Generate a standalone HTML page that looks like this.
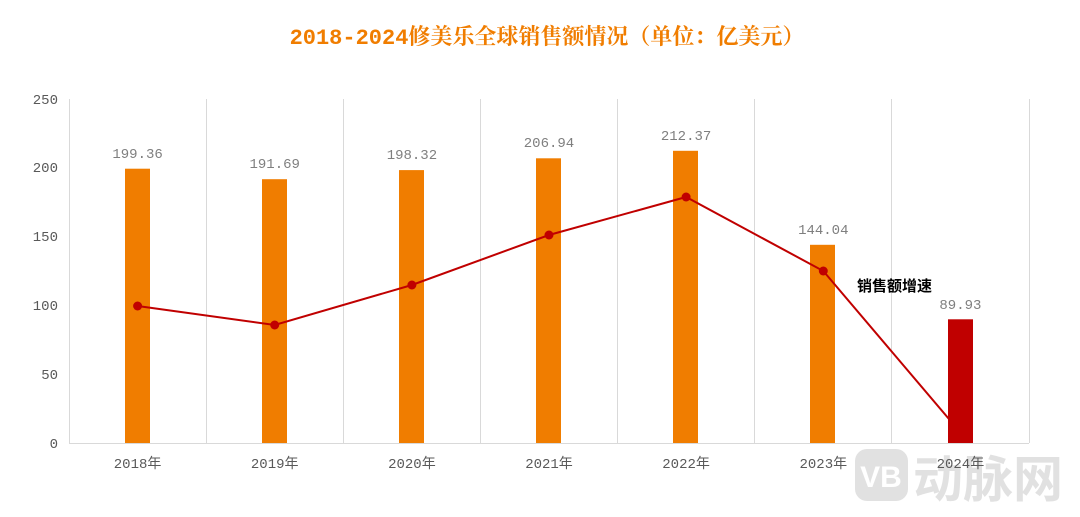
<!DOCTYPE html>
<html><head><meta charset="utf-8"><style>
body{margin:0;background:#fff;}
svg text{font-family:"Liberation Mono","Noto Sans CJK SC",monospace;}
</style></head><body>
<svg width="1080" height="512" xmlns="http://www.w3.org/2000/svg">
<text x="547" y="44" text-anchor="middle" font-size="22" font-weight="bold" fill="#f07d00" style="font-family:'Liberation Mono','Noto Serif CJK SC',monospace">2018-2024修美乐全球销售额情况（单位：亿美元）</text>
<g stroke="#d9d9d9" stroke-width="1">
<line x1="69.5" y1="99" x2="69.5" y2="443"/>
<line x1="206.5" y1="99" x2="206.5" y2="443"/>
<line x1="343.5" y1="99" x2="343.5" y2="443"/>
<line x1="480.5" y1="99" x2="480.5" y2="443"/>
<line x1="617.5" y1="99" x2="617.5" y2="443"/>
<line x1="754.5" y1="99" x2="754.5" y2="443"/>
<line x1="891.5" y1="99" x2="891.5" y2="443"/>
<line x1="1029.5" y1="99" x2="1029.5" y2="443"/>
<line x1="69" y1="443.5" x2="1029" y2="443.5"/>
</g>
<g font-size="14" fill="#595959" text-anchor="end">
<text x="58" y="448">0</text><text x="58" y="379">50</text><text x="58" y="310">100</text><text x="58" y="241">150</text><text x="58" y="172">200</text><text x="58" y="104">250</text>
</g>
<g fill="#f07d00">
<rect x="125" y="168.7" width="25" height="274.3"/>
<rect x="262" y="179.2" width="25" height="263.8"/>
<rect x="399" y="170.1" width="25" height="272.9"/>
<rect x="536" y="158.3" width="25" height="284.7"/>
<rect x="673" y="150.8" width="25" height="292.2"/>
<rect x="810" y="244.8" width="25" height="198.2"/>
</g>
<polyline points="137.6,306 274.7,325 411.9,285 549,235 686.1,197 823.3,271 960,432" fill="none" stroke="#c00000" stroke-width="2"/>
<g fill="#c00000">
<circle cx="137.6" cy="306" r="4.5"/><circle cx="274.7" cy="325" r="4.5"/><circle cx="411.9" cy="285" r="4.5"/><circle cx="549" cy="235" r="4.5"/><circle cx="686.1" cy="197" r="4.5"/><circle cx="823.3" cy="271" r="4.5"/>
</g>
<rect x="948" y="319.3" width="25" height="123.7" fill="#c00000"/>
<g font-size="14" fill="#7f7f7f" text-anchor="middle">
<text x="137.6" y="158">199.36</text><text x="274.7" y="168">191.69</text><text x="411.9" y="159">198.32</text><text x="549" y="147">206.94</text><text x="686.1" y="140">212.37</text><text x="823.3" y="234">144.04</text><text x="960.4" y="309">89.93</text>
</g>
<text x="857" y="291" font-size="15" font-weight="bold" fill="#000" style="font-family:'Noto Sans CJK SC',sans-serif">销售额增速</text>
<g opacity="0.35">
<rect x="855" y="449" width="53" height="52" rx="12" fill="#aaa"/>
<text x="881" y="487" font-size="30" font-weight="bold" fill="#fff" text-anchor="middle" style="font-family:'Liberation Sans',sans-serif">VB</text>
<text x="913" y="497" font-size="50" font-weight="bold" fill="#aaa" style="font-family:'Noto Sans CJK SC',sans-serif">动脉网</text>
</g>
<g font-size="14" fill="#595959" text-anchor="middle">
<text x="137.6" y="468">2018年</text><text x="274.7" y="468">2019年</text><text x="411.9" y="468">2020年</text><text x="549" y="468">2021年</text><text x="686.1" y="468">2022年</text><text x="823.3" y="468">2023年</text><text x="960.4" y="468">2024年</text>
</g>
</svg>
</body></html>
